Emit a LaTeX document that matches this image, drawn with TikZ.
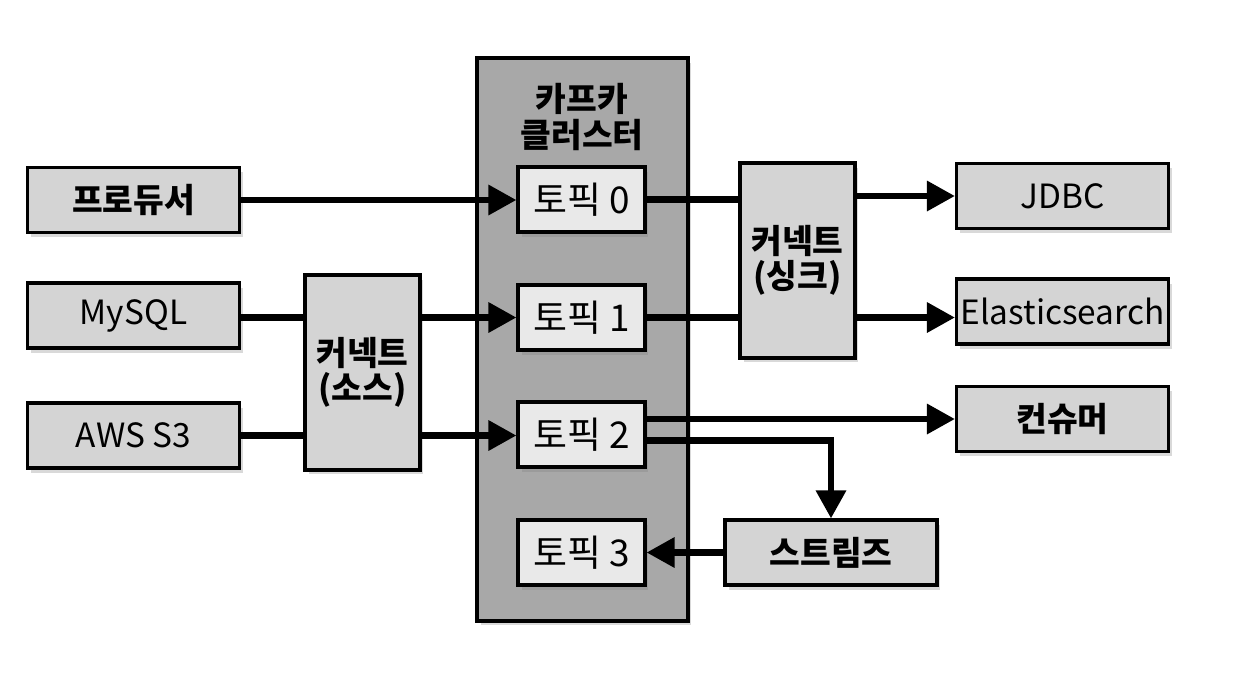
\documentclass[tikz,border=0pt]{standalone}
\usepackage{fontspec}
\setmainfont{Noto Sans CJK KR}
\usetikzlibrary{arrows.meta,shadows}
\definecolor{boxgray}{RGB}{212,212,212}
\definecolor{topicgray}{RGB}{233,233,233}
\definecolor{clustergray}{RGB}{168,168,168}
\begin{document}
\begin{tikzpicture}[x=0.02cm,y=-0.02cm,
  base/.style={rectangle,draw=black,line width=1.8pt,inner sep=0pt,font=\fontsize{19}{20}\selectfont,align=center,
    drop shadow={opacity=0.3,shadow xshift=0.07cm,shadow yshift=-0.09cm}},
  box/.style={base,fill=boxgray,minimum width=4.24cm,minimum height=1.3cm},
  conn/.style={base,fill=boxgray,minimum width=2.3cm,minimum height=3.9cm},
  topic/.style={base,fill=topicgray,minimum width=2.54cm,minimum height=1.3cm,font=\fontsize{21}{22}\selectfont},
  flow/.style={line width=3.6pt,-{Triangle[length=0.56cm,width=0.58cm]}},
  link/.style={line width=3.6pt}]
\useasboundingbox (0,0) rectangle (1248,674);
% cluster
\node[base,fill=clustergray,minimum width=4.22cm,minimum height=11.26cm] (kafka) at (582.5,339.5) {};
\node[font=\fontsize{19}{20}\selectfont\bfseries,align=center] (title) at (582,117) {카프카\\클러스터};
\node[topic] (t0) at (581.5,199.5) {토픽 0};
\node[topic] (t1) at (581.5,317.5) {토픽 1};
\node[topic] (t2) at (581.5,434.5) {토픽 2};
\node[topic] (t3) at (581.5,552.5) {토픽 3};
% sources
\node[box,font=\fontsize{19}{20}\selectfont\bfseries] (prod) at (133.5,200) {프로듀서};
\node[box] (mysql) at (133.5,315.5) {MySQL};
\node[box] (s3) at (133.5,435.5) {AWS S3};
\node[conn,font=\fontsize{19}{20}\selectfont\bfseries] (src) at (362.5,372.5) {커넥트\\(소스)};
% sinks
\node[conn,font=\fontsize{19}{20}\selectfont\bfseries] (sink) at (797.5,260.5) {커넥트\\(싱크)};
\node[box] (jdbc) at (1062.5,196) {JDBC};
\node[box] (es) at (1062.5,311.5) {Elasticsearch};
\node[box,font=\fontsize{19}{20}\selectfont\bfseries] (cons) at (1062.5,419) {컨슈머};
\node[box,font=\fontsize{19}{20}\selectfont\bfseries] (strm) at (831,552.5) {스트림즈};
% connectors
\draw[flow] (prod.east) -- (prod.east -| t0.west);
\draw[link] (mysql.east |- t1) -- (t1 -| src.west);
\draw[link] (s3.east) -- (s3.east -| src.west);
\draw[flow] (src.east |- t1) -- (t1.west);
\draw[flow] (src.east |- s3.east) -- (s3.east -| t2.west);
\draw[link] (t0.east) -- (t0.east -| sink.west) (t1.east) -- (t1.east -| sink.west);
\draw[flow] (sink.east |- jdbc) -- (jdbc.west);
\draw[flow] (sink.east |- t1) -- (t1 -| es.west);
\draw[flow] (cons -| t2.east) -- (cons.west);
\draw[flow] ([yshift=-0.12cm]t2.east) -| (strm.north);
\draw[flow] (strm.west) -- (t3.east);
\end{tikzpicture}
\end{document}
